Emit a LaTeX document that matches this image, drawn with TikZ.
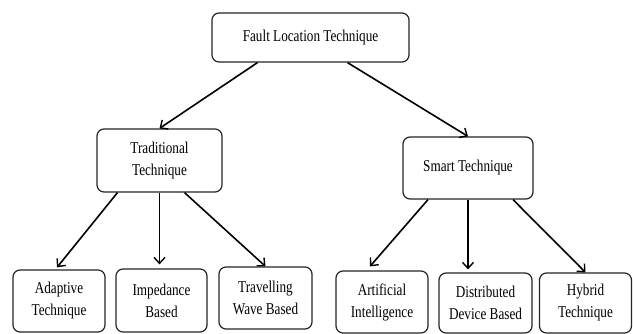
\documentclass[tikz,border=0pt]{standalone}
\usepackage{fontspec}
\setmainfont[FakeStretch=0.8]{Liberation Serif}
\usetikzlibrary{arrows.meta,calc}
\begin{document}
\begin{tikzpicture}[x=1pt,y=-1pt,
  box/.style={draw=black!85,line width=1.2pt,rounded corners=7pt,fill=white,
    align=center,inner sep=0pt,font=\fontsize{16.5}{22}\selectfont},
  arr/.style={line width=1.6pt,-{Straight Barb[length=6pt,width=11pt,line width=1.4pt]}}]
\useasboundingbox (0,0) rectangle (633,334);
\node[box,minimum width=197pt,minimum height=49pt] (top) at (310.5,37.5) {Fault Location Technique};
\node[box,minimum width=125pt,minimum height=63pt] (trad) at (159.5,160.5) {Traditional\\Technique};
\node[box,minimum width=130pt,minimum height=62pt] (smart) at (468,168) {Smart Technique};
\node[box,minimum width=92pt,minimum height=62pt] (adap) at (59,301) {Adaptive\\Technique};
\node[box,minimum width=91pt,minimum height=63pt] (imp) at (161.5,300.5) {Impedance\\Based};
\node[box,minimum width=93pt,minimum height=62pt] (trav) at (265.5,298) {Travelling\\Wave Based};
\node[box,minimum width=92pt,minimum height=62pt] (art) at (382,302) {Artificial\\Intelligence};
\node[box,minimum width=93pt,minimum height=60pt] (dist) at (485.5,303) {Distributed\\Device Based};
\node[box,minimum width=92pt,minimum height=60pt] (hyb) at (585.5,303) {Hybrid\\Technique};
\draw[arr] ($(top.south)+(-53,0)$) -- (trad.north);
\draw[arr] ($(top.south)+(37,0)$) -- (smart.north);
\draw[arr] ($(trad.south)+(-42,0)$) -- ($(adap.north)+(-2,-2)$);
\draw[arr] (trad.south) -- ($(trad.south |- imp.north)+(0,-4)$);
\draw[arr] ($(trad.south)+(25,0)$) -- (trav.north);
\draw[arr] ($(smart.south)+(-40,0)$) -- ($(art.north)+(-12,-4)$);
\draw[arr] (smart.south) -- ($(smart.south |- dist.north)+(0,-3)$);
\draw[arr] ($(smart.south)+(45,0)$) -- (hyb.north);
\end{tikzpicture}
\end{document}
